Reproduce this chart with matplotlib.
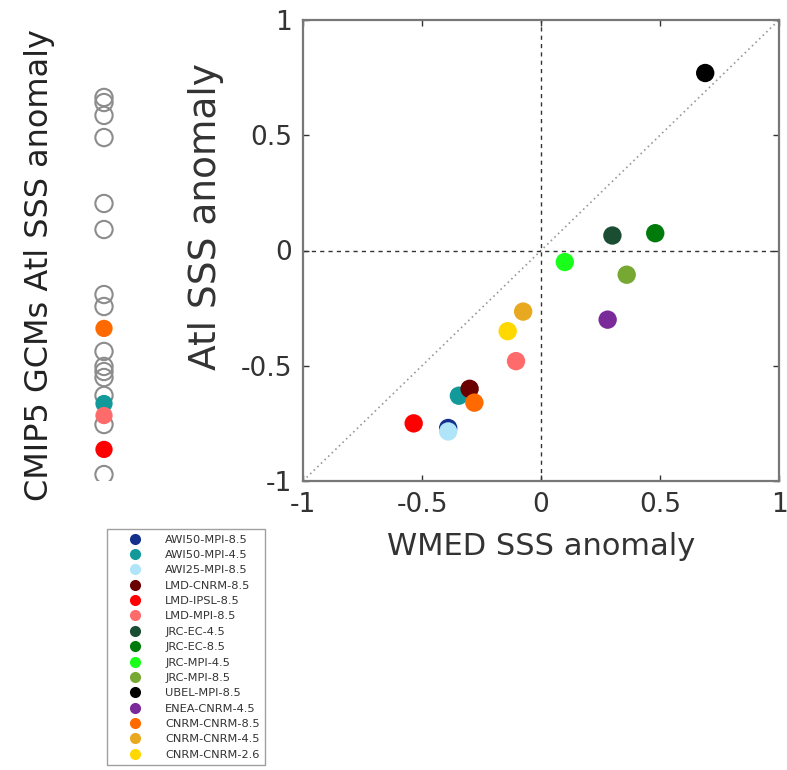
import matplotlib
matplotlib.use("Agg")
import matplotlib.pyplot as plt
from matplotlib.lines import Line2D

# regional model runs: WMED vs Atl SSS anomaly
models = ["AWI50-MPI-8.5", "AWI50-MPI-4.5", "AWI25-MPI-8.5", "LMD-CNRM-8.5",
          "LMD-IPSL-8.5", "LMD-MPI-8.5", "JRC-EC-4.5", "JRC-EC-8.5",
          "JRC-MPI-4.5", "JRC-MPI-8.5", "UBEL-MPI-8.5", "ENEA-CNRM-4.5",
          "CNRM-CNRM-8.5", "CNRM-CNRM-4.5", "CNRM-CNRM-2.6"]
colors = ["#14308c", "#129a9a", "#b0e4f8", "#6a0000", "#ff0000", "#ff6b6b",
          "#1b4d33", "#007a0a", "#1aff1a", "#76a832", "#000000", "#7b2a9a",
          "#ff6a00", "#e8a820", "#ffd800"]
wmed = [-0.39, -0.345, -0.39, -0.30, -0.535, -0.105, 0.30, 0.48, 0.10, 0.36,
        0.69, 0.28, -0.28, -0.075, -0.14]
atl = [-0.77, -0.63, -0.785, -0.60, -0.75, -0.48, 0.065, 0.075, -0.05, -0.105,
       0.77, -0.30, -0.66, -0.265, -0.35]

# CMIP5 GCMs Atl SSS anomaly (open rings) and the ones used as drivers (filled)
gcm_atl = [0.664, 0.642, 0.586, 0.490, 0.204, 0.091, -0.191, -0.243, -0.438,
           -0.503, -0.525, -0.551, -0.629, -0.755, -0.972]
driver_atl = [-0.338, -0.664, -0.716, -0.863]
driver_colors = ["#ff6a00", "#129a9a", "#ff6b6b", "#ff0000"]

ticks = [-1, -0.5, 0, 0.5, 1]
tick_labels = ["-1", "-0.5", "0", "0.5", "1"]

fig = plt.figure(figsize=(7.87, 7.70), dpi=100)

# main scatter
ax = fig.add_axes([303/787, 1 - 481/770, 476/787, 461/770])
ax.plot([-1, 1], [-1, 1], linestyle=(0, (1, 2)), color="#999999", lw=1.2, zorder=1)
ax.axvline(0, color="#333333", lw=1, linestyle=(0, (3, 3)), zorder=1)
ax.axhline(0, color="#333333", lw=1, linestyle=(0, (3, 3)), zorder=1)
for i in range(len(models)):
    ax.scatter(wmed[i], atl[i], s=175, color=colors[i], edgecolors="none", zorder=3)
ax.set_xlim(-1, 1)
ax.set_ylim(-1, 1)
ax.set_xticks(ticks)
ax.set_xticklabels(tick_labels)
ax.set_yticks(ticks)
ax.set_yticklabels(tick_labels)
ax.tick_params(direction="in", length=4, width=1, top=True, right=True,
               labelsize=19, colors="#333333", pad=8)
for sp in ax.spines.values():
    sp.set_color("#777777")
    sp.set_linewidth(1.6)
ax.set_xlabel("WMED SSS anomaly", fontsize=22, color="#333333", labelpad=10)
ax.set_ylabel("Atl SSS anomaly", fontsize=27, color="#333333")
ax.yaxis.set_label_coords(-0.165, 0.573)

# left strip with GCM values
ax2 = fig.add_axes([70/787, 1 - 481/770, 68/787, 461/770])
ax2.scatter([0] * len(gcm_atl), gcm_atl, s=155, facecolors="none",
            edgecolors="#8c8c8c", linewidths=1.5, zorder=2)
ax2.scatter([0] * len(driver_atl), driver_atl, s=155, color=driver_colors,
            edgecolors="none", zorder=3)
ax2.set_xlim(-1, 1)
ax2.set_ylim(-1, 1)
ax2.set_xticks([])
ax2.set_yticks([])
for sp in ax2.spines.values():
    sp.set_visible(False)
fig.text(40/787, 1 - 265/770, "CMIP5 GCMs Atl SSS anomaly", rotation=90,
         ha="center", va="center", fontsize=23, color="#222222")

# legend
handles = [Line2D([], [], marker="o", linestyle="none", markersize=8,
                  markerfacecolor=c, markeredgecolor="none") for c in colors]
leg = fig.legend(handles, models, loc="upper left",
                 bbox_to_anchor=(107/787, 1 - 529/770), fontsize=8.2,
                 frameon=True, fancybox=False, labelspacing=0.47,
                 handlelength=4.0, handletextpad=0.6, borderpad=0.5,
                 borderaxespad=0)
leg.get_frame().set_edgecolor("#888888")
leg.get_frame().set_linewidth(1)
for t in leg.get_texts():
    t.set_color("#333333")

fig.savefig("out.png", dpi=100)
